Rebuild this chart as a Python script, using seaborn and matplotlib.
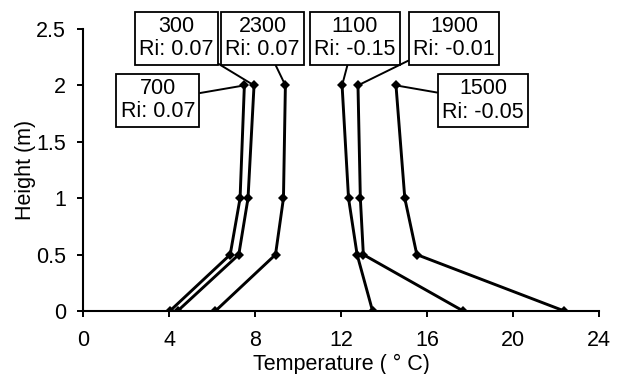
import matplotlib
matplotlib.use("Agg")
import matplotlib.pyplot as plt
import seaborn as sns
import pandas as pd

# Temperature profiles (deg C) at four measurement heights, one per time of day
heights = [0, 0.5, 1, 2]
times = ["300", "700", "1100", "1500", "1900", "2300"]
t300 = [4.39, 7.24, 7.67, 7.95]
t700 = [4.03, 6.84, 7.30, 7.50]
t1100 = [13.47, 12.75, 12.35, 12.05]
t1500 = [22.40, 15.53, 14.97, 14.56]
t1900 = [17.69, 13.04, 12.90, 12.79]
t2300 = [6.15, 8.95, 9.32, 9.41]
ri_values = ["0.07", "0.07", "-0.15", "-0.05", "-0.01", "0.07"]

# Label box centres (data coordinates) for each profile
label_x = [4.33, 3.47, 12.63, 18.61, 17.26, 8.35]
label_y = [2.418, 1.868, 2.418, 1.866, 2.418, 2.418]

x_ticks = [0, 4, 8, 12, 16, 20, 24]
y_ticks = [0, 0.5, 1, 1.5, 2, 2.5]

profiles = [t300, t700, t1100, t1500, t1900, t2300]
df = pd.DataFrame({
    "time": [t for t, p in zip(times, profiles) for _ in p],
    "height": [h for p in profiles for h in heights],
    "temp": [v for p in profiles for v in p],
})

FS = 15.5

sns.set_style("ticks")
plt.rcParams["font.family"] = ["Liberation Sans", "DejaVu Sans"]
plt.rcParams["font.size"] = FS
plt.rcParams["text.color"] = "black"
plt.rcParams["axes.labelcolor"] = "black"

fig = plt.figure(figsize=(6.18, 3.74), dpi=100)
ax = fig.add_axes([0.1348, 0.1684, 0.834, 0.7541])

sns.lineplot(data=df, x="temp", y="height", hue="time", units="time",
             estimator=None, sort=False, palette=["black"] * len(times),
             marker="D", markersize=5.5, markeredgewidth=0, linewidth=2.1,
             legend=False, ax=ax)

for t, prof, ri, lx, ly in zip(times, profiles, ri_values, label_x, label_y):
    ax.annotate(f"{t}\nRi: {ri}", xy=(prof[-1], heights[-1]), xytext=(lx, ly),
                textcoords="data", ha="center", va="center", fontsize=FS,
                linespacing=1.15, color="black",
                bbox=dict(boxstyle="square,pad=0.2", fc="white", ec="black", lw=1.3),
                arrowprops=dict(arrowstyle="-", color="black", lw=1.4,
                                shrinkA=0, shrinkB=0))

ax.set_xlim(0, 24)
ax.set_ylim(0, 2.5)
ax.set_xticks(x_ticks)
ax.set_xticklabels([str(v) for v in x_ticks])
ax.set_yticks(y_ticks)
ax.set_yticklabels([f"{v:g}" for v in y_ticks])
ax.set_xlabel("Temperature ( ° C)", fontsize=FS, labelpad=2)
ax.set_ylabel("Height (m)", fontsize=FS, labelpad=0)
ax.tick_params(direction="out", length=4.5, width=1.4, colors="black",
               labelsize=FS)
ax.tick_params(axis="x", pad=9)
ax.tick_params(axis="y", pad=8)
for side in ["left", "bottom"]:
    ax.spines[side].set_linewidth(1.5)
    ax.spines[side].set_color("black")
sns.despine(ax=ax)
ax.patch.set_alpha(0)

fig.savefig("out.png", dpi=100)
